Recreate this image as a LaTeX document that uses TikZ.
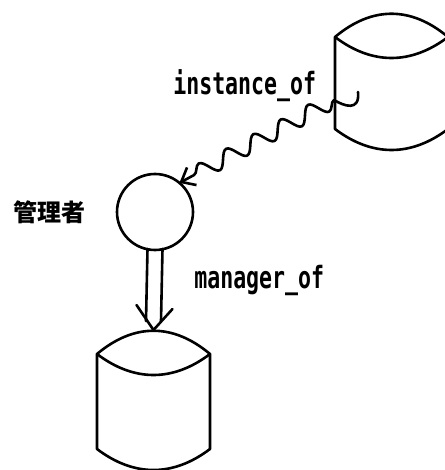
\documentclass[tikz,border=0pt]{standalone}
\usepackage{fontspec}
\usepackage{graphicx}
\newfontfamily\cjk{Noto Sans CJK JP}
\newfontfamily\monofam{DejaVu Sans Mono}
\usetikzlibrary{decorations.pathmorphing,calc,arrows.meta}
\newcommand\drum[1]{%
  \path (#1.north west) ++(0,24) coordinate (#1-tl);
  \path (#1.north east) ++(0,24) coordinate (#1-tr);
  \path (#1.south west) ++(0,-21) coordinate (#1-bl);
  \path (#1.south east) ++(0,-21) coordinate (#1-br);
  \draw (#1-tl) .. controls +(37,-31) and +(-37,-31) .. (#1-tr) -- (#1-br)
        .. controls +(-37,28) and +(37,28) .. (#1-bl) -- cycle;
  \draw (#1-tl) .. controls +(37,28) and +(-37,28) .. (#1-tr);
}
\begin{document}
\begin{tikzpicture}[x=1pt,y=-1pt,line width=2.6pt,line cap=round,line join=round,
  place/.style={draw=none,minimum width=113pt,inner sep=0pt,outer sep=0pt},
  role/.style={circle,draw,minimum size=76pt,inner sep=0pt,outer sep=0pt},
  rel/.style={font=\monofam\bfseries\fontsize{22.7}{24}\selectfont,inner sep=0pt,anchor=base west},
  kanji/.style={font=\cjk\bfseries\fontsize{24}{26}\selectfont,inner sep=0pt}]
\useasboundingbox (0,0) rectangle (444,470);
\node[place,minimum height=137pt] (inst) at (391.5,81.5) {};
\node[place,minimum height=140pt] (db) at (153.5,400) {};
\node[role] (mgr) at (155,212) {};
\drum{inst}
\drum{db}
\node[kanji] (lblcjk) at (49,212) {管理者};
\node[rel] (lblinst) at (172,95) {\scalebox{0.95}[1.35]{instance\_of}};
\node[rel] (lblmgr) at (193,288) {\scalebox{0.95}[1.35]{manager\_of}};
% wavy arrow
\coordinate (hook) at ($(inst.north west)+(23,79)$);
\coordinate (cross) at ($(inst.north west)+(-1,87)$);
\draw[-{Straight Barb[length=12pt,width=20pt]}] (hook) .. controls +(2,20) and +(10,6) .. (cross)
  decorate[decoration={snake,segment length=31pt,amplitude=8pt,post length=10pt}]{ -- (mgr.50)};
% double arrow
\draw ($(mgr.south)+(-7.5,-1)$) -- ($(db.north)+(-7.5,-9)$);
\draw ($(mgr.south)+(7.5,-1)$) -- ($(db.north)+(7.5,-9)$);
\draw ($(db.north)+(-17,-25)$) -- (db.north) -- ($(db.north)+(19,-21)$);
\end{tikzpicture}
\end{document}
